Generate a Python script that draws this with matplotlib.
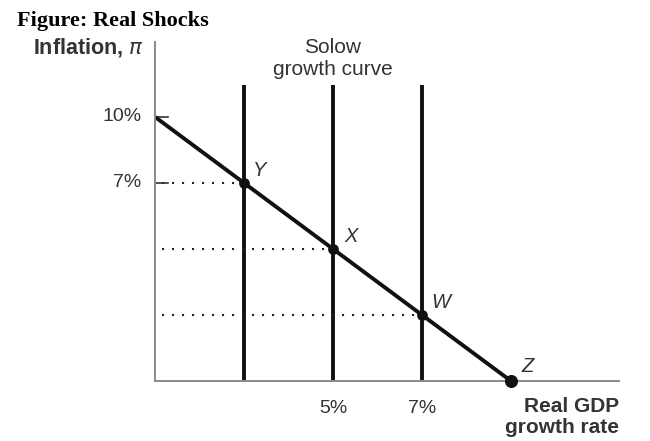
import matplotlib.pyplot as plt

# growth rate (%) and inflation (%) at the labelled points
point_names = ["Y", "X", "W", "Z"]
growth = [3, 5, 7, 9]
inflation = [7, 4, 1, -2]
line_start = (1, 10)
solow_growth = [3, 5, 7]
x_ticks = [5, 7]
x_tick_labels = ["5%", "7%"]
y_ticks = [10, 7]
y_tick_labels = ["10%", "7%"]

fig = plt.figure(figsize=(6.5, 4.41), dpi=100)
ax = fig.add_axes([0.2385, 0.136, 0.714, 0.769])
ax.set_xlim(1, 11.43)
ax.set_ylim(-2, 13.41)

sans = "Liberation Sans"
gray = "#333333"

for side in ["top", "right"]:
    ax.spines[side].set_visible(False)
for side in ["left", "bottom"]:
    ax.spines[side].set_color("#8a8a8a")
    ax.spines[side].set_linewidth(1.4)

# Solow curves
for g in solow_growth:
    ax.plot([g, g], [-2, 11.45], color="#111111", lw=2.8, solid_capstyle="butt")

# dotted guides
for g, p in zip(growth[:3], inflation[:3]):
    ax.plot([1.15, g], [p, p], color="#222222", lw=1.5, ls=(0, (1, 3.8)))

# short tick marks on y-axis
for t in y_ticks:
    ax.plot([1, 1.3], [t, t], color="#333333", lw=1.2)

# main curve
ax.plot([line_start[0]] + growth, [line_start[1]] + inflation,
        color="#111111", lw=2.8, solid_capstyle="butt")
ax.scatter(growth[:3], inflation[:3], s=45, color="#111111", zorder=5, clip_on=False)
ax.scatter(growth[3:], inflation[3:], s=70, color="#111111", zorder=5, clip_on=False)

offsets = [(0.34, 0.55), (0.4, 0.55), (0.43, 0.55), (0.38, 0.64)]
for name, g, p, (dx, dy) in zip(point_names, growth, inflation, offsets):
    ax.text(g + dx, p + dy, name, fontsize=14.5, style="italic", family=sans,
            color=gray, ha="center", va="center")

ax.set_xticks([])
ax.set_yticks([])
for t, lab in zip(x_ticks, x_tick_labels):
    ax.text(t, -3.23, lab, fontsize=14, family=sans, color=gray, ha="center", va="center")
for t, lab in zip(y_ticks, y_tick_labels):
    ax.text(0.7, t, lab, fontsize=14, family=sans, color=gray, ha="right", va="center")

ax.text(5, 12.66, "Solow\ngrowth curve", fontsize=15, family=sans, color=gray,
        ha="center", va="center", linespacing=1.25)

fig.text(0.026, 0.952, "Figure: Real Shocks", fontsize=16, family="Liberation Serif",
         weight="bold", ha="left", va="center")
fig.text(0.051, 0.893, "Inflation, $\\pi$", fontsize=15.5, family=sans, weight="bold",
         color=gray, ha="left", va="center")
fig.text(0.953, 0.054, "Real GDP\ngrowth rate", fontsize=15, family=sans, weight="bold",
         color=gray, ha="right", va="center", linespacing=1.15)

fig.savefig("out.png", dpi=100)
